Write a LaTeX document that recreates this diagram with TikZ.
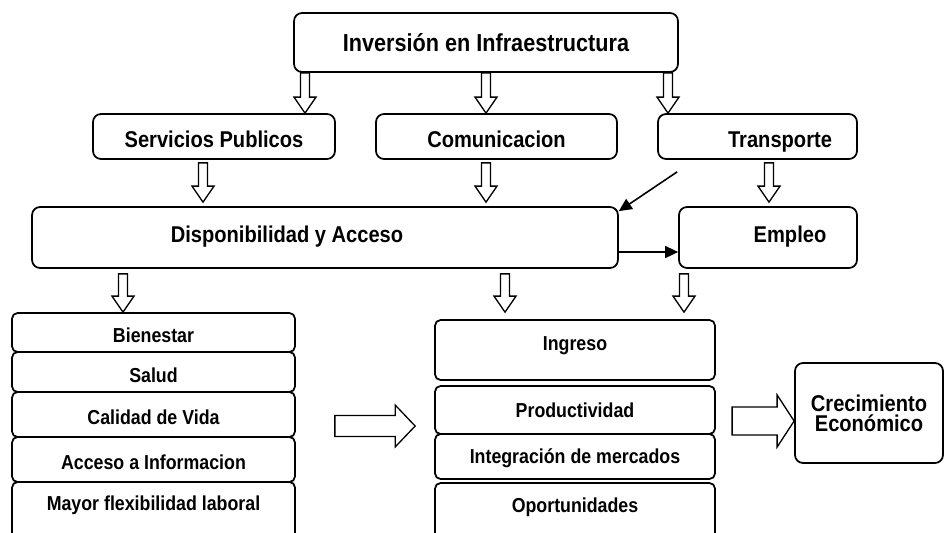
\documentclass[tikz,border=0pt]{standalone}
\usepackage{fontspec}
\setmainfont[FakeStretch=0.88]{Liberation Sans}
\usetikzlibrary{calc,arrows.meta}
\begin{document}
\begin{tikzpicture}[x=0.02cm,y=-0.02cm]
	% Styles
	\tikzstyle{boite}=[draw, line width=1pt, rounded corners=1.6mm, inner sep=0pt, align=center]
	\tikzstyle{titre}=[boite, font=\fontsize{14}{16}\selectfont\bfseries]
	\tikzstyle{moyen}=[boite, minimum height=45*\Px, text height=13pt, text depth=0pt, font=\fontsize{13}{15}\selectfont\bfseries]
	\tikzstyle{grand}=[boite, minimum height=61*\Px, text height=9.3pt, text depth=4pt, font=\fontsize{13}{15}\selectfont\bfseries]
	\tikzstyle{pile}=[boite, rounded corners=1.1mm, font=\fontsize{11.5}{13}\selectfont\bfseries]
	\tikzstyle{bas}=[text height=11.6pt, text depth=0pt]
	\tikzstyle{milieu}=[text height=8.4pt, text depth=0pt]
	\tikzstyle{haut}=[text depth=7pt]
	\tikzstyle{fleche}=[-{Triangle[length=2.6mm,width=2.4mm]}, line width=0.9pt]
	\tikzset{creuse/.style n args={3}{draw, fill=white, line width=0.75pt, line join=miter,
		to path={let \p1=($(\tikztotarget)!#3!(\tikztostart)$) in
			($(\tikztostart)!#1!90:(\tikztotarget)$) -- ($(\p1)!#1!90:(\tikztotarget)$)
			-- ($(\p1)!#2!90:(\tikztotarget)$) -- (\tikztotarget)
			-- ($(\p1)!#2!-90:(\tikztotarget)$) -- ($(\p1)!#1!-90:(\tikztotarget)$)
			-- ($(\tikztostart)!#1!-90:(\tikztotarget)$) -- cycle}}}
	\tikzstyle{petite}=[creuse={0.9mm}{2.2mm}{3.2mm}]
	% Dimensions
	\def\Px{0.2mm}
	\clip (0,0) rectangle (950,532);
	% Noeuds
	\node[titre, minimum width=384*\Px, minimum height=59*\Px] (inv) at (486,42.5) {Inversión en Infraestructura};
	%
	\node[moyen, minimum width=242*\Px] (serv) at (214,136.5) {Servicios Publicos};
	\node[moyen, minimum width=241*\Px] (comu) at (496.5,136.5) {Comunicacion};
	\node[moyen, minimum width=199*\Px] (trans) at (757.5,136.5) {\hspace*{9mm}Transporte};
	%
	\node[grand, minimum width=586*\Px] (disp) at (325,237.5) {Disponibilidad y Acceso\hspace*{15.2mm}};
	\node[grand, minimum width=178*\Px] (emp) at (768,237.5) {\hspace*{8.8mm}Empleo};
	%
	\node[pile, bas, minimum width=283*\Px, minimum height=39*\Px] (bien) at (153.5,332.5) {Bienestar};
	\node[pile, bas, minimum width=283*\Px, minimum height=40*\Px] (salud) at (153.5,372) {Salud};
	\node[pile, bas, minimum width=283*\Px, minimum height=45*\Px] (cal) at (153.5,414.5) {Calidad de Vida};
	\node[pile, bas, minimum width=283*\Px, minimum height=45*\Px] (acc) at (153.5,459.5) {Acceso a Informacion};
	\node[pile, haut, text depth=9pt, minimum width=283*\Px, minimum height=58*\Px] (may) at (153.5,511) {Mayor flexibilidad laboral};
	%
	\node[pile, haut, minimum width=280*\Px, minimum height=60*\Px] (ing) at (575,350) {Ingreso};
	\node[pile, milieu, minimum width=280*\Px, minimum height=48*\Px] (prod) at (575,410) {Productividad};
	\node[pile, milieu, minimum width=280*\Px, minimum height=45*\Px] (integ) at (575,456.5) {Integración de mercados};
	\node[pile, haut, minimum width=280*\Px, minimum height=57*\Px] (opor) at (575,511.5) {Oportunidades};
	%
	\node[boite, minimum width=148*\Px, minimum height=100*\Px, font=\fontsize{13}{11.5}\selectfont\bfseries] (crec) at (869,413) {Crecimiento\\Económico};
	% Fleches creuses
	\draw[petite] (inv.south -| 305,0) to (serv.north -| 305,0);
	\draw[petite] (inv.south -| 486,0) to (comu.north -| 486,0);
	\draw[petite] (inv.south -| 668,0) to (trans.north -| 668,0);
	\draw[petite] ($(serv.south -| 203,0)+(0,3)$) to ($(disp.north -| 203,0)+(0,-4)$);
	\draw[petite] ($(comu.south -| 486,0)+(0,3)$) to ($(disp.north -| 486,0)+(0,-4)$);
	\draw[petite] ($(trans.south -| 769,0)+(0,3)$) to ($(emp.north -| 769,0)+(0,-4)$);
	\draw[petite] ($(disp.south -| 123,0)+(0,5)$) to (bien.north -| 123,0);
	\draw[petite] ($(disp.south -| 505,0)+(0,5)$) to ($(ing.north -| 505,0)+(0,-7)$);
	\draw[petite] ($(emp.south -| 684,0)+(0,5)$) to ($(ing.north -| 684,0)+(0,-7)$);
	\draw[creuse={2.1mm}{4.2mm}{4mm}] ($(cal.east)+(39,11.5)$) to ($(prod.west |- cal.east)+(-19,11.5)$);
	\draw[creuse={2.8mm}{5.2mm}{3.4mm}] ($(crec.west)+(-62,8)$) to ($(crec.west)+(0,8)$);
	% Fleches pleines
	\coordinate (depart) at ($(trans.south west)+(20,12)$);
	\draw[fleche] (depart) -- ($(disp.north east)+(0,5)$);
	\draw[fleche] ($(disp.east)+(0,14.5)$) -- ($(emp.west)+(0,14.5)$);
\end{tikzpicture}
\end{document}
